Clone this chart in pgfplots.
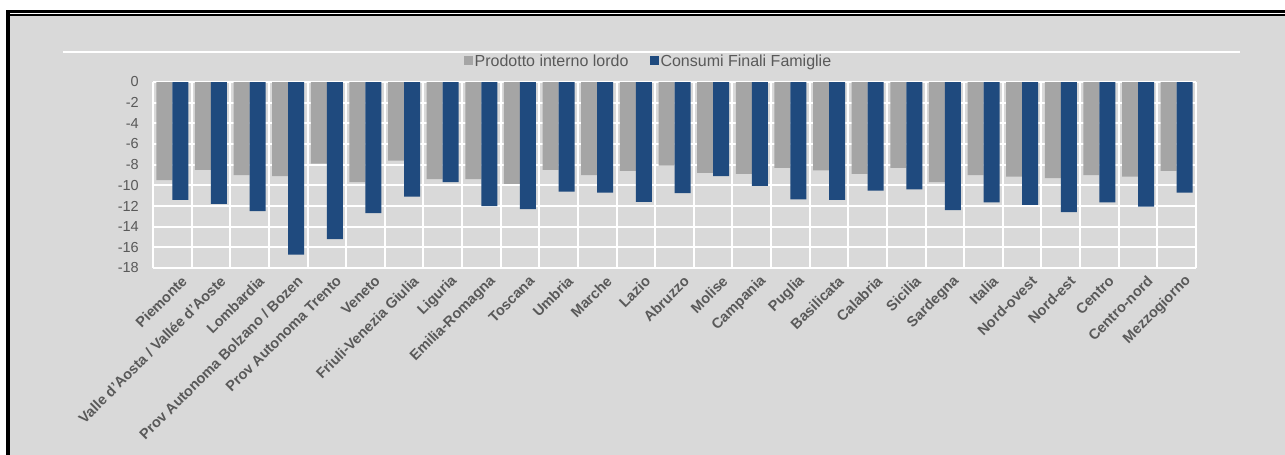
\documentclass[border=0pt]{standalone}
\usepackage{pgfplots}
\pgfplotsset{compat=1.18}
\usepackage{pgfplotstable}
\usepackage{fontspec}
\setmainfont{Liberation Sans}
\definecolor{bgc}{RGB}{217,217,217}
\definecolor{pil}{RGB}{165,165,165}
\definecolor{cff}{RGB}{31,74,126}
\definecolor{txt}{RGB}{89,89,89}

\pgfplotstableread{
x pil cff
0  -9.5  -11.4
1  -8.5  -11.8
2  -9.0  -12.5
3  -9.1  -16.7
4  -7.9  -15.2
5  -9.7  -12.7
6  -7.6  -11.1
7  -9.4  -9.7
8  -9.4  -12.0
9  -9.85 -12.3
10 -8.5  -10.6
11 -9.0  -10.7
12 -8.6  -11.6
13 -8.1  -10.75
14 -8.8  -9.1
15 -8.9  -10.05
16 -8.3  -11.35
17 -8.55 -11.4
18 -8.9  -10.5
19 -8.3  -10.4
20 -9.7  -12.4
21 -9.0  -11.65
22 -9.15 -11.9
23 -9.3  -12.6
24 -9.0  -11.65
25 -9.15 -12.05
26 -8.6  -10.7
}\datatable

\begin{document}
\begin{tikzpicture}
% page and frame
\fill[white] (0,0) rectangle (1285bp,-455bp);
\fill[bgc] (10bp,-15.5bp) rectangle (1285bp,-455bp);
\fill[black] (6bp,-10bp) rectangle (1285bp,-12.7bp);
\fill[black] (6bp,-13.7bp) rectangle (1285bp,-15.5bp);
\fill[black] (6bp,-10bp) rectangle (10bp,-455bp);
\fill[white] (63bp,-50.5bp) rectangle (1240bp,-53.3bp);

\begin{axis}[
  at={(153bp,-268bp)}, anchor=south west,
  scale only axis,
  width=1043bp, height=186bp,
  xmin=-0.5, xmax=26.5,
  ymin=-18, ymax=0,
  axis line style={draw=none},
  major tick length=0pt, minor tick length=0pt,
  ytick={-18,-16,...,0},
  xtick={0,...,26},
  minor xtick={-0.5,0.5,...,26.5},
  ymajorgrids, xminorgrids,
  grid style={white, line width=2bp},
  minor grid style={white, line width=2bp},
  /pgf/number format/assume math mode=true,
  yticklabel style={font=\fontsize{14.5bp}{16bp}\selectfont, text=txt, inner sep=0pt, xshift=-14bp},
  xticklabel style={font=\fontsize{14.5bp}{16bp}\selectfont\bfseries, text=txt, rotate=45, anchor=east, inner sep=0pt, yshift=-16bp, xshift=1bp},
  xticklabels={Piemonte,{Valle d'Aosta / Vallée d'Aoste},Lombardia,{Prov Autonoma Bolzano / Bozen},{Prov Autonoma Trento},Veneto,{Friuli-Venezia Giulia},Liguria,{Emilia-Romagna},Toscana,Umbria,Marche,Lazio,Abruzzo,Molise,Campania,Puglia,Basilicata,Calabria,Sicilia,Sardegna,Italia,{Nord-ovest},{Nord-est},Centro,{Centro-nord},Mezzogiorno},
  ybar=0pt, bar width=16bp,
  legend columns=2,
  legend style={at={(0.475,1.113)}, anchor=center, draw=none, fill=none,
    font=\fontsize{16bp}{18bp}\selectfont, text=txt,
    nodes={inner sep=1.5bp},
    /tikz/every even column/.append style={column sep=20bp}},
  legend image code/.code={\fill[#1] (0bp,-4.5bp) rectangle (9bp,4.5bp);},
]
\addplot[fill=pil, draw=none] table[x=x, y=pil] {\datatable};
\addlegendentry{Prodotto interno lordo}
\addplot[fill=cff, draw=none] table[x=x, y=cff] {\datatable};
\addlegendentry{Consumi Finali Famiglie}
\end{axis}
\pgfresetboundingbox
\path[use as bounding box] (0,0) rectangle (1285bp,-455bp);
\end{tikzpicture}
\end{document}
